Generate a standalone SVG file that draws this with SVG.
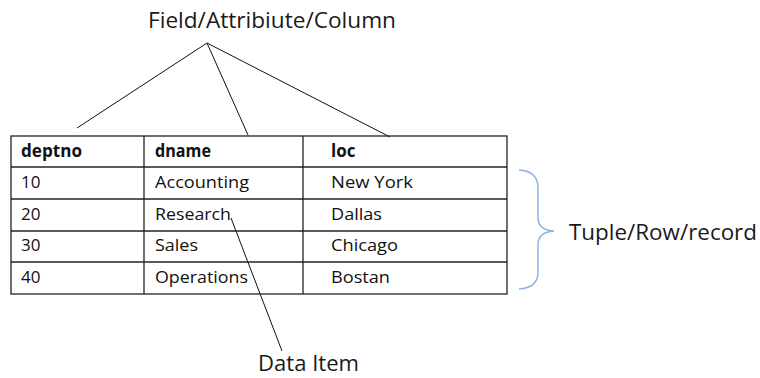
<svg xmlns="http://www.w3.org/2000/svg" width="760" height="378" viewBox="0 0 760 378">
<style>
.lbl{font-family:"Open Sans","Liberation Sans",sans-serif;font-size:21px;fill:#1a1a1a}
.cell{font-family:"Open Sans","Liberation Sans",sans-serif;font-size:17px;fill:#111}
.hdr{font-weight:bold}
.grid{stroke:#222;stroke-width:1.3;fill:none}
.conn{stroke:#111;stroke-width:1;fill:none}
</style>
<rect width="760" height="378" fill="#fff"/>
<g id="connectors">
<line class="conn" x1="207" y1="43" x2="77" y2="128"/>
<line class="conn" x1="207" y1="43" x2="248" y2="135"/>
<line class="conn" x1="207" y1="43" x2="390" y2="137"/>
<line class="conn" x1="231" y1="218" x2="282" y2="351"/>
</g>
<g id="field-label"><text class="lbl" x="272" y="28" text-anchor="middle" textLength="248" lengthAdjust="spacingAndGlyphs">Field/Attribiute/Column</text></g>
<g id="table">
<rect class="grid" x="11" y="136" width="496" height="158"/>
<line class="grid" x1="11" y1="167" x2="507" y2="167"/>
<line class="grid" x1="11" y1="199" x2="507" y2="199"/>
<line class="grid" x1="11" y1="231" x2="507" y2="231"/>
<line class="grid" x1="11" y1="262" x2="507" y2="262"/>
<line class="grid" x1="144" y1="136" x2="144" y2="294"/>
<line class="grid" x1="303" y1="136" x2="303" y2="294"/>
<text class="cell hdr" x="21" y="157" textLength="61" lengthAdjust="spacingAndGlyphs">deptno</text>
<text class="cell hdr" x="155" y="157" textLength="56" lengthAdjust="spacingAndGlyphs">dname</text>
<text class="cell hdr" x="331" y="157">loc</text>
<text class="cell" x="21" y="188">10</text>
<text class="cell" x="155" y="188" textLength="94" lengthAdjust="spacingAndGlyphs">Accounting</text>
<text class="cell" x="331" y="188" textLength="82" lengthAdjust="spacingAndGlyphs">New York</text>
<text class="cell" x="21" y="220">20</text>
<text class="cell" x="155" y="220" textLength="76" lengthAdjust="spacingAndGlyphs">Research</text>
<text class="cell" x="331" y="220" textLength="51" lengthAdjust="spacingAndGlyphs">Dallas</text>
<text class="cell" x="21" y="251">30</text>
<text class="cell" x="155" y="251" textLength="43" lengthAdjust="spacingAndGlyphs">Sales</text>
<text class="cell" x="331" y="251" textLength="67" lengthAdjust="spacingAndGlyphs">Chicago</text>
<text class="cell" x="21" y="283">40</text>
<text class="cell" x="155" y="283" textLength="93" lengthAdjust="spacingAndGlyphs">Operations</text>
<text class="cell" x="331" y="283" textLength="59" lengthAdjust="spacingAndGlyphs">Bostan</text>
</g>
<g id="tuple">
<path d="M519 170 Q538 171 538 188 L538 218 Q538 230 554 231 Q538 232 538 245 L538 272 Q538 288 519 289" fill="none" stroke="#8db3e2" stroke-width="1.5"/>
<text class="lbl" x="569" y="240" textLength="188" lengthAdjust="spacingAndGlyphs">Tuple/Row/record</text>
</g>
<g id="data-item"><text class="lbl" x="258" y="371" textLength="101" lengthAdjust="spacingAndGlyphs">Data Item</text></g>
</svg>
